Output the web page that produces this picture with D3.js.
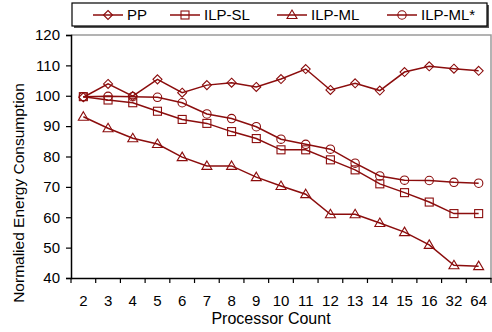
<!DOCTYPE html>
<html><head><meta charset="utf-8">
<script src="https://cdn.jsdelivr.net/npm/d3@7"></script>
<style>
html,body{margin:0;padding:0;background:#fff;}
text{font-family:"Liberation Sans",Arial,sans-serif;fill:#000;}
</style></head>
<body>
<svg id="chart" width="492" height="332"></svg>
<script>
const categories = ["2","3","4","5","6","7","8","9","10","11","12","13","14","15","16","32","64"];
const seriesNames = ["PP","ILP-SL","ILP-ML","ILP-ML*"];
const ppValues     = [99.5,103.9,99.9,105.4,101.0,103.5,104.3,102.9,105.5,108.8,101.9,104.1,101.7,107.8,109.7,108.9,108.2];
const ilpSlValues  = [99.7,98.6,97.7,94.9,92.2,90.9,88.2,85.9,82.2,82.2,78.9,75.6,71.0,68.1,65.0,61.2,61.2];
const ilpMlValues  = [93.1,89.3,86.0,84.1,79.8,76.9,76.9,73.2,70.3,67.6,61.0,61.0,58.1,55.1,50.9,44.2,43.9];
const ilpMlsValues = [99.7,99.8,99.7,99.5,97.7,94.0,92.5,89.8,85.7,84.0,82.4,77.8,73.6,72.2,72.1,71.5,71.2];
const yTicks = [40,50,60,70,80,90,100,110,120];
const markers = ["diamond","square","triangle","circle"];

const color = "#8b0d0d";
const svg = d3.select("#chart");
const m = {l:71, r:491, t:35, b:278};

const x = d3.scaleBand().domain(categories).range([m.l, m.r]);
const y = d3.scaleLinear().domain([40,120]).range([m.b, m.t]);

// plot area border (gray, top & right)
svg.append("path").attr("d", `M${m.l},${m.t}H${m.r}V${m.b}`)
  .attr("fill","none").attr("stroke","#9a9a9a").attr("stroke-width",1.5);

// y axis
const yAxis = d3.axisLeft(y).tickValues(yTicks).tickSize(5).tickPadding(6);
const gy = svg.append("g").attr("transform",`translate(${m.l},0)`).call(yAxis);
gy.select(".domain").attr("stroke","#000").attr("stroke-width",1.5);
gy.selectAll(".tick line").attr("stroke","#000").attr("stroke-width",1.2);
gy.selectAll(".tick text").style("font-size","15px").attr("fill","#000");

// x axis
const xAxis = d3.axisBottom(x).tickSize(0).tickPadding(17);
const gx = svg.append("g").attr("transform",`translate(0,${m.b})`).call(xAxis);
gx.select(".domain").attr("stroke","#000").attr("stroke-width",1.5);
gx.selectAll(".tick text").style("font-size","15px").attr("fill","#000");
// category boundary ticks
const bounds = categories.map(c => x(c)).concat([x(categories[categories.length-1]) + x.bandwidth()]);
gx.selectAll(".btick").data(bounds).enter().append("line")
  .attr("x1",d=>d).attr("x2",d=>d).attr("y1",0).attr("y2",5)
  .attr("stroke","#000").attr("stroke-width",1.2);

// axis titles
svg.append("text").attr("x",271).attr("y",324).attr("text-anchor","middle")
  .style("font-size","16px").text("Processor Count");
svg.append("text").attr("transform",`translate(24,193) rotate(-90)`)
  .attr("text-anchor","middle").style("font-size","15.5px").text("Normalied Energy Consumption");

function drawMarker(g, type, cx, cy){
  if(type==="diamond"){
    g.append("path").attr("d",`M${cx},${cy-4.5}L${cx+4.5},${cy}L${cx},${cy+4.5}L${cx-4.5},${cy}Z`);
  } else if(type==="square"){
    g.append("rect").attr("x",cx-4).attr("y",cy-4).attr("width",8).attr("height",8);
  } else if(type==="triangle"){
    g.append("path").attr("d",`M${cx},${cy-5}L${cx+5},${cy+3.5}L${cx-5},${cy+3.5}Z`);
  } else {
    g.append("circle").attr("cx",cx).attr("cy",cy).attr("r",4.2);
  }
}

const allSeries = [ppValues, ilpSlValues, ilpMlValues, ilpMlsValues];
const line = d3.line().x((d,i)=>x(categories[i])+x.bandwidth()/2).y(d=>y(d));
allSeries.forEach((vals, si) => {
  svg.append("path").datum(vals).attr("d", line)
    .attr("fill","none").attr("stroke",color).attr("stroke-width",1.5);
  const g = svg.append("g").attr("fill","none").attr("stroke",color).attr("stroke-width",1.1);
  vals.forEach((v,i) => drawMarker(g, markers[si], x(categories[i])+x.bandwidth()/2, y(v)));
});

// legend
const lg = svg.append("g");
lg.append("rect").attr("x",74).attr("y",5).attr("width",415).attr("height",23).attr("fill","#555");
lg.append("rect").attr("x",72).attr("y",3).attr("width",415).attr("height",23)
  .attr("fill","#fff").attr("stroke","#000").attr("stroke-width",1.2);
const legX = [108, 185, 292, 402];
seriesNames.forEach((name, si) => {
  const cx = legX[si], cy = 15;
  lg.append("line").attr("x1",cx-15).attr("x2",cx+15).attr("y1",cy).attr("y2",cy)
    .attr("stroke",color).attr("stroke-width",1.5);
  const g = lg.append("g").attr("fill","none").attr("stroke",color).attr("stroke-width",1.1);
  drawMarker(g, markers[si], cx, cy);
  lg.append("text").attr("x",cx+19).attr("y",cy).attr("dy","0.36em")
    .style("font-size","15px").text(name);
});
</script>
</body></html>
